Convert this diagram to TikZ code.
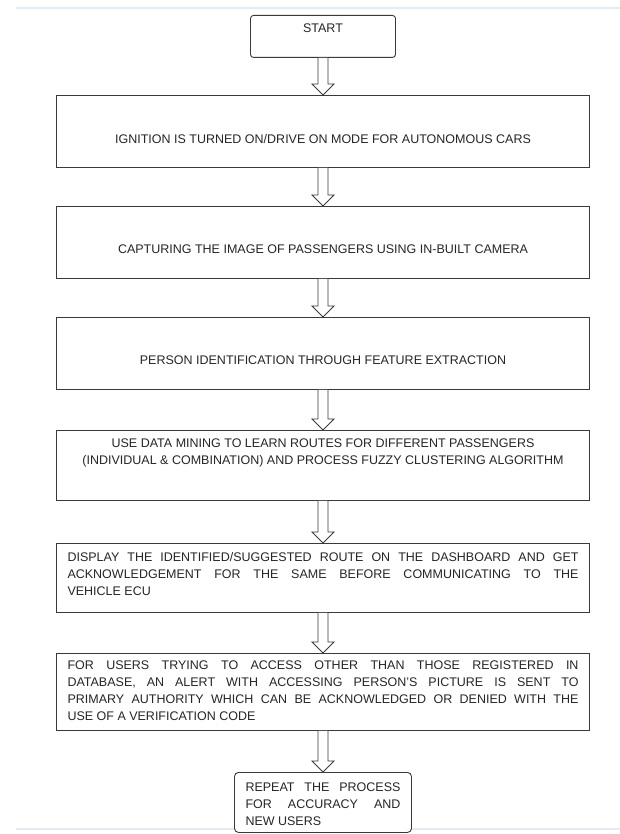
\documentclass[tikz,border=0pt]{standalone}
\usepackage{fontspec}
\setmainfont{Liberation Sans}
\usepackage{xcolor}
\definecolor{cLine}{HTML}{3A3A3A}
\definecolor{cText}{HTML}{262626}
\definecolor{cRule}{HTML}{E4EBF2}
\usepackage{tikz}
\usetikzlibrary{calc}
\tikzset{
  node-box/.style={draw=cLine,line width=0.9pt,fill=white,anchor=north,
    inner xsep=11pt,inner ysep=0pt,text=cText},
  node-end/.style={node-box,rounded corners=4pt},
  arrow-block/.style={draw=cLine,line width=0.8pt,fill=white,line join=miter},
  page-rule/.style={draw=cRule,line width=1.6pt},
}
% text block: height, width, gap above first line, body
\newcommand{\flowtext}[4]{\parbox[c][#1][t]{#2}{\fontsize{12.5}{17}\selectfont
  \vspace*{#3}#4}}
\newcommand{\jline}[1]{\makebox[\linewidth][s]{#1}}
% hollow block arrow from the bottom of one box to the top of the next
\newcommand{\flowarrow}[2]{%
  \draw[arrow-block] ($(#1.south)+(-5,0)$) -- ($(#2.north)+(-5,-11)$) -- ++(-6,0)
    -- (#2.north) -- ++(11,-11) -- ++(-6,0) -- ($(#1.south)+(5,0)$);}

\begin{document}
\begin{tikzpicture}[x=1pt,y=-1pt]
  \useasboundingbox (0,0) rectangle (620,834);
  \draw[page-rule] (16,8) -- (620,8);
  \draw[page-rule] (16,829) -- (620,829);

  \node[node-end,rounded corners=3pt] (start) at (323,15)
    {\flowtext{42pt}{123pt}{8.5pt}{\centering START}};
  \node[node-box] (ignition) at (323,95)
    {\flowtext{72pt}{511pt}{38.5pt}{\centering IGNITION IS TURNED ON/DRIVE ON MODE FOR AUTONOMOUS CARS}};
  \node[node-box] (capture) at (323,206)
    {\flowtext{72pt}{511pt}{38.5pt}{\centering CAPTURING THE IMAGE OF PASSENGERS USING IN-BUILT CAMERA}};
  \node[node-box] (identify) at (323,317)
    {\flowtext{72pt}{511pt}{38.5pt}{\centering PERSON IDENTIFICATION THROUGH FEATURE EXTRACTION}};
  \node[node-box] (mining) at (323,430)
    {\flowtext{70pt}{511pt}{8.5pt}{\centering USE DATA MINING TO LEARN ROUTES FOR DIFFERENT PASSENGERS\\
      (INDIVIDUAL \& COMBINATION) AND PROCESS FUZZY CLUSTERING ALGORITHM}};
  \node[node-box] (display) at (323,543)
    {\flowtext{69pt}{511pt}{8.5pt}{%
      \jline{DISPLAY THE IDENTIFIED/SUGGESTED ROUTE ON THE DASHBOARD AND GET}\\
      \jline{ACKNOWLEDGEMENT FOR THE SAME BEFORE COMMUNICATING TO THE}\\
      VEHICLE ECU}};
  \node[node-box] (alert) at (323,653)
    {\flowtext{77pt}{511pt}{7.5pt}{%
      \jline{FOR USERS TRYING TO ACCESS OTHER THAN THOSE REGISTERED IN}\\
      \jline{DATABASE, AN ALERT WITH ACCESSING PERSON'S PICTURE IS SENT TO}\\
      \jline{PRIMARY AUTHORITY WHICH CAN BE ACKNOWLEDGED OR DENIED WITH THE}\\
      USE OF A VERIFICATION CODE}};
  \node[node-end] (repeat) at (323,772)
    {\flowtext{60pt}{155pt}{10.5pt}{%
      \jline{REPEAT THE PROCESS}\\
      \jline{FOR ACCURACY AND}\\
      NEW USERS}};

  \foreach \a/\b in {start/ignition,ignition/capture,capture/identify,
      identify/mining,mining/display,display/alert,alert/repeat}
    \flowarrow{\a}{\b};
\end{tikzpicture}
\end{document}
